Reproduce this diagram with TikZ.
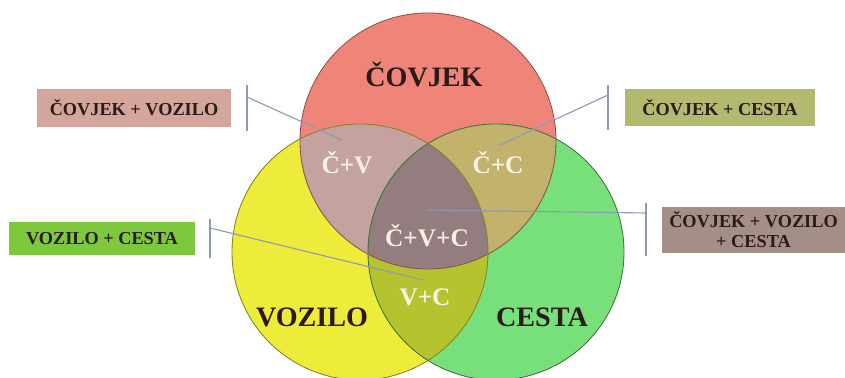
\documentclass[tikz,border=0pt]{standalone}
\usepackage{fontspec}
\setmainfont{Liberation Serif}
\usepackage{tikz}
\usetikzlibrary{positioning}
\definecolor{covjek}{HTML}{EF8579}
\definecolor{vozilo}{HTML}{EEEC3A}
\definecolor{cesta}{HTML}{78E07A}
\definecolor{cvfill}{HTML}{C4A2A0}
\definecolor{ccfill}{HTML}{C2B26C}
\definecolor{vcfill}{HTML}{B5C42E}
\definecolor{cvcfill}{HTML}{937D7E}
\definecolor{pointer}{HTML}{8C9AB8}
\definecolor{boxcv}{HTML}{D4A59A}
\definecolor{boxcc}{HTML}{B3B96E}
\definecolor{boxvc}{HTML}{7DC83C}
\definecolor{boxcvc}{HTML}{A48E88}
\definecolor{ink}{HTML}{2A1A18}
\definecolor{cream}{HTML}{F7F2E8}

\begin{document}
\begin{tikzpicture}[
      big/.style={font=\bfseries\fontsize{20}{24}\selectfont, text=ink},
      part/.style={font=\bfseries\fontsize{18}{22}\selectfont, text=cream},
      tag/.style={font=\bfseries\fontsize{13}{14}\selectfont, text=ink,
      inner sep=0pt, align=center},
      bar/.style={pointer, line width=0.8pt},
      link/.style={pointer, line width=0.8pt},
    ]
    \useasboundingbox (0,0) rectangle (21.125,9.45);
    \clip (0,0) rectangle (21.125,9.45);

    % circle centres
    \coordinate (cov) at (10.7, 5.925);
    \coordinate (voz) at (9.0, 3.15);
    \coordinate (ces) at (12.4, 3.15);

    % fills
    \fill[covjek] (cov) circle (3.2);
    \fill[vozilo] (voz) circle (3.2);
    \fill[cesta] (ces) circle (3.2);
    \begin{scope}
      \clip (voz) circle (3.2);
      \fill[vcfill] (ces) circle (3.2);
    \end{scope}
    \begin{scope}
      \clip (cov) circle (3.2);
      \fill[cvfill] (voz) circle (3.2);
      \fill[ccfill] (ces) circle (3.2);
      \clip (voz) circle (3.2);
      \fill[cvcfill] (ces) circle (3.2);
    \end{scope}

    % outlines
    \draw[covjek!60!black, line width=0.6pt] (cov) circle (3.2);
    \draw[vozilo!55!black, line width=0.6pt] (voz) circle (3.2);
    \draw[cesta!50!black, line width=0.6pt] (ces) circle (3.2);

    % boxes
    \node[tag, fill=boxcv, minimum width=4.85cm, minimum height=0.95cm]
      (tcv) at (3.35, 6.75) {ČOVJEK + VOZILO};
    \node[tag, fill=boxcc, minimum width=4.75cm, minimum height=0.925cm]
      (tcc) at (18.0, 6.7625) {ČOVJEK + CESTA};
    \node[tag, fill=boxvc, minimum width=4.65cm, minimum height=0.825cm]
      (tvc) at (2.55, 3.4875) {VOZILO + CESTA};
    \node[tag, fill=boxcvc, minimum width=4.575cm, minimum height=1.15cm]
      (tcvc) at (18.8375, 3.7) {ČOVJEK + VOZILO\\+ CESTA};

    % pointers
    \coordinate (b1a) at (6.175, 7.325);
    \coordinate (b1b) at (6.175, 6.175);
    \coordinate (b1) at (6.175, 7.025);
    \coordinate (e1) at (8.55, 5.95);
    \coordinate (b2a) at (15.2, 7.325);
    \coordinate (b2b) at (15.2, 6.2);
    \coordinate (b2) at (15.2, 7.075);
    \coordinate (e2) at (12.5, 5.825);
    \coordinate (b3a) at (5.25, 3.975);
    \coordinate (b3b) at (5.25, 3.0);
    \coordinate (b3) at (5.25, 3.75);
    \coordinate (e3) at (10.575, 2.45);
    \coordinate (b4a) at (16.15, 4.375);
    \coordinate (b4b) at (16.15, 3.05);
    \coordinate (b4) at (16.15, 4.125);
    \coordinate (e4) at (10.675, 4.2);
    \draw[bar] (b1a) -- (b1b);
    \draw[link] (b1) -- (e1);
    \draw[bar] (b2a) -- (b2b);
    \draw[link] (b2) -- (e2);
    \draw[bar] (b3a) -- (b3b);
    \draw[link] (b3) -- (e3);
    \draw[bar] (b4a) -- (b4b);
    \draw[link] (b4) -- (e4);

    % labels
    \node[big] (lcov) at (10.6, 7.575) {ČOVJEK};
    \node[big] (lvoz) at (7.8, 1.525) {VOZILO};
    \node[big] (lces) at (13.55, 1.525) {CESTA};
    \node[part] (lcv) at (8.675, 5.375) {Č+V};
    \node[part] (lcc) at (12.45, 5.375) {Č+C};
    \node[part] (lcvc) at (10.675, 3.55) {Č+V+C};
    \node[part] (lvc) at (10.625, 2.025) {V+C};
  \end{tikzpicture}
\end{document}
